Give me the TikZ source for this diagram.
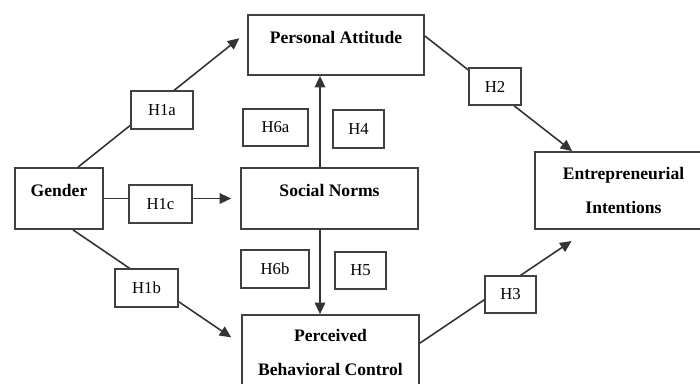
\documentclass[tikz,border=0pt]{standalone}
\usepackage{fontspec}
\setmainfont{Liberation Serif}
\usetikzlibrary{arrows.meta}

\begin{document}
\begin{tikzpicture}[
  x=0.02cm, y=-0.02cm,
  box/.style={draw=black!75,line width=1pt,align=center,inner sep=0pt,
              font=\fontsize{10}{19.5}\selectfont\bfseries},
  tbox/.style={box,text height=7pt,text depth=9pt},
  hyp/.style={draw=black!75,line width=1pt,fill=white,inner sep=0pt,
              minimum height=0.75cm,font=\fontsize{9.5}{11}\selectfont},
  flow/.style={draw=black!80,line width=0.9pt,-{Triangle[length=2.3mm,width=2.1mm]}},
]
  \useasboundingbox (0,0) rectangle (700,383);
  \clip (0,0) rectangle (700,383);

  % constructs
  \node[tbox,minimum width=3.52cm,minimum height=1.2cm]  (pa)     at (336,45)     {Personal Attitude};
  \node[tbox,minimum width=1.76cm,minimum height=1.22cm] (gender) at (59,198.5)   {Gender};
  \node[tbox,minimum width=3.54cm,minimum height=1.22cm] (sn)     at (329.5,198.5) {Social Norms};
  \node[box,minimum width=3.54cm,minimum height=1.54cm]  (ei)     at (623.5,190.5) {Entrepreneurial\\Intentions};
  \node[box,minimum width=3.54cm,minimum height=1.5cm]   (pbc)    at (330.5,352.5) {Perceived\\Behavioral Control};

  % paths
  \draw[flow,shorten >=0.2cm]  ([shift={(19,0)}]gender.north) -- ([shift={(0,-13)}]pa.west);
  \draw[flow,shorten >=0.18cm] (gender.east) -- (sn.west);
  \draw[flow,shorten >=0.24cm] ([shift={(14,0)}]gender.south) -- ([shift={(0,30)}]pbc.north west);
  \draw[flow] ([shift={(-9.5,0)}]sn.north) -- ([shift={(-16,0)}]pa.south);
  \draw[flow] ([shift={(-9.5,0)}]sn.south) -- ([shift={(-10.5,0)}]pbc.north);
  \draw[flow] ([shift={(0,-9)}]pa.east) -- ([shift={(38,0)}]ei.north west);
  \draw[flow,shorten >=0.4cm]  ([shift={(0,29)}]pbc.north east) -- ([shift={(54,0)}]ei.south west);

  % hypotheses
  \node[hyp,minimum width=1.24cm] (h1a) at (162,110)    {H1a};
  \node[hyp,minimum width=1.26cm] (h1c) at (160.5,204)  {H1c};
  \node[hyp,minimum width=1.26cm] (h1b) at (146.5,288)  {H1b};
  \node[hyp,minimum width=1.3cm]  (h6a) at (275.5,127.5) {H6a};
  \node[hyp,minimum width=1.02cm] (h4)  at (358.5,129)  {H4};
  \node[hyp,minimum width=1.36cm] (h6b) at (275,269)    {H6b};
  \node[hyp,minimum width=1.02cm] (h5)  at (360.5,270.5) {H5};
  \node[hyp,minimum width=1.04cm] (h2)  at (495,86.5)   {H2};
  \node[hyp,minimum width=1.02cm] (h3)  at (510.5,294.5) {H3};
\end{tikzpicture}
\end{document}
